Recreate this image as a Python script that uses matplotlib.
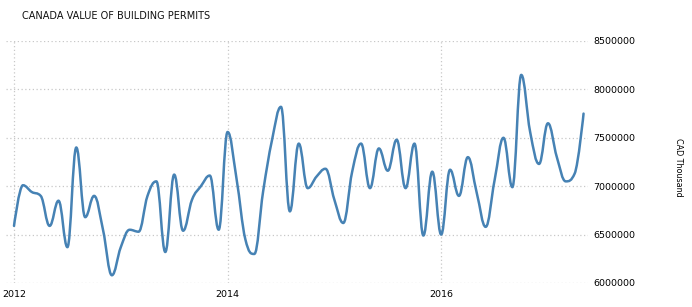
import matplotlib
matplotlib.use('Agg')
import matplotlib.pyplot as plt
from matplotlib.path import Path
from matplotlib.patches import PathPatch
import numpy as np

# monthly values, Jan 2012 .. May 2017 (CAD thousand)
values = [
    6590000, 7010000, 6940000, 6900000, 6590000, 6850000, 6370000, 7400000,
    6680000, 6900000, 6550000, 6080000,
    6370000, 6550000, 6530000, 6900000, 7050000, 6320000, 7120000, 6540000,
    6860000, 7000000, 7110000, 6550000,
    7560000, 7080000, 6450000, 6300000, 6950000, 7480000, 7820000, 6740000,
    7440000, 6980000, 7100000, 7180000,
    6860000, 6620000, 7150000, 7440000, 6980000, 7390000, 7160000, 7480000,
    6980000, 7440000, 6490000, 7150000,
    6500000, 7170000, 6900000, 7300000, 6930000, 6580000, 7060000, 7500000,
    6990000, 8150000, 7560000, 7230000,
    7650000, 7300000, 7050000, 7130000, 7750000,
]
year_ticks = [0, 24, 48]
year_labels = ['2012', '2014', '2016']
y_ticks = [6000000, 6500000, 7000000, 7500000, 8000000, 8500000]

LINE = '#4682b4'
GRID = '#c8c8c8'


def spline_path(xs, ys, smoothing=1.5):
    """Bezier path through the points, Highcharts-style spline."""
    denom = smoothing + 1
    n = len(xs)
    left = [(xs[0], ys[0])] * n
    right = [(xs[0], ys[0])] * n
    for i in range(n):
        x, y = xs[i], ys[i]
        if i == 0 or i == n - 1:
            left[i] = right[i] = (x, y)
            continue
        lx_, ly_ = xs[i - 1], ys[i - 1]
        nx_, ny_ = xs[i + 1], ys[i + 1]
        lcx = (smoothing * x + lx_) / denom
        lcy = (smoothing * y + ly_) / denom
        rcx = (smoothing * x + nx_) / denom
        rcy = (smoothing * y + ny_) / denom
        if rcx != lcx:
            corr = ((rcy - lcy) * (rcx - x)) / (rcx - lcx) + y - rcy
            lcy += corr
            rcy += corr
        # keep control points inside neighbouring values (no false extremes)
        if lcy > ly_ and lcy > y:
            lcy = max(ly_, y)
            rcy = 2 * y - lcy
        elif lcy < ly_ and lcy < y:
            lcy = min(ly_, y)
            rcy = 2 * y - lcy
        if rcy > ny_ and rcy > y:
            rcy = max(ny_, y)
            lcy = 2 * y - rcy
        elif rcy < ny_ and rcy < y:
            rcy = min(ny_, y)
            lcy = 2 * y - rcy
        left[i] = (lcx, lcy)
        right[i] = (rcx, rcy)

    verts = [(xs[0], ys[0])]
    codes = [Path.MOVETO]
    for i in range(1, n):
        verts += [right[i - 1], left[i], (xs[i], ys[i])]
        codes += [Path.CURVE4] * 3
    return Path(verts, codes)


months = np.arange(len(values))

fig = plt.figure(figsize=(6.92, 3.07), dpi=100)
ax = fig.add_axes([6 / 692, 1 - 283 / 307, 582 / 692, 242 / 307])

ax.add_patch(PathPatch(spline_path(months, values), facecolor='none',
                       edgecolor=LINE, lw=1.8, capstyle='round',
                       joinstyle='round', zorder=3))

ax.set_xlim(-0.9, 64.5)
ax.set_ylim(6000000, 8500000)
ax.set_xticks(year_ticks)
ax.set_xticklabels(year_labels)
ax.set_yticks(y_ticks)
ax.set_yticklabels([str(v) for v in y_ticks])
ax.yaxis.tick_right()
ax.tick_params(axis='both', length=0, labelsize=6.8, colors='black')
ax.tick_params(axis='y', pad=4)
ax.tick_params(axis='x', pad=5)
ax.grid(True, color=GRID, linestyle=(0, (1, 2)), lw=0.9)
for s in ax.spines.values():
    s.set_visible(False)

fig.text(22 / 692, 1 - 16 / 307, 'CANADA VALUE OF BUILDING PERMITS',
         fontsize=7, ha='left', va='center', color='#111111')
fig.text(678 / 692, 1 - 167.5 / 307, 'CAD Thousand', rotation=270,
         fontsize=5.8, ha='center', va='center', color='black')

fig.savefig('out.png', dpi=100)
